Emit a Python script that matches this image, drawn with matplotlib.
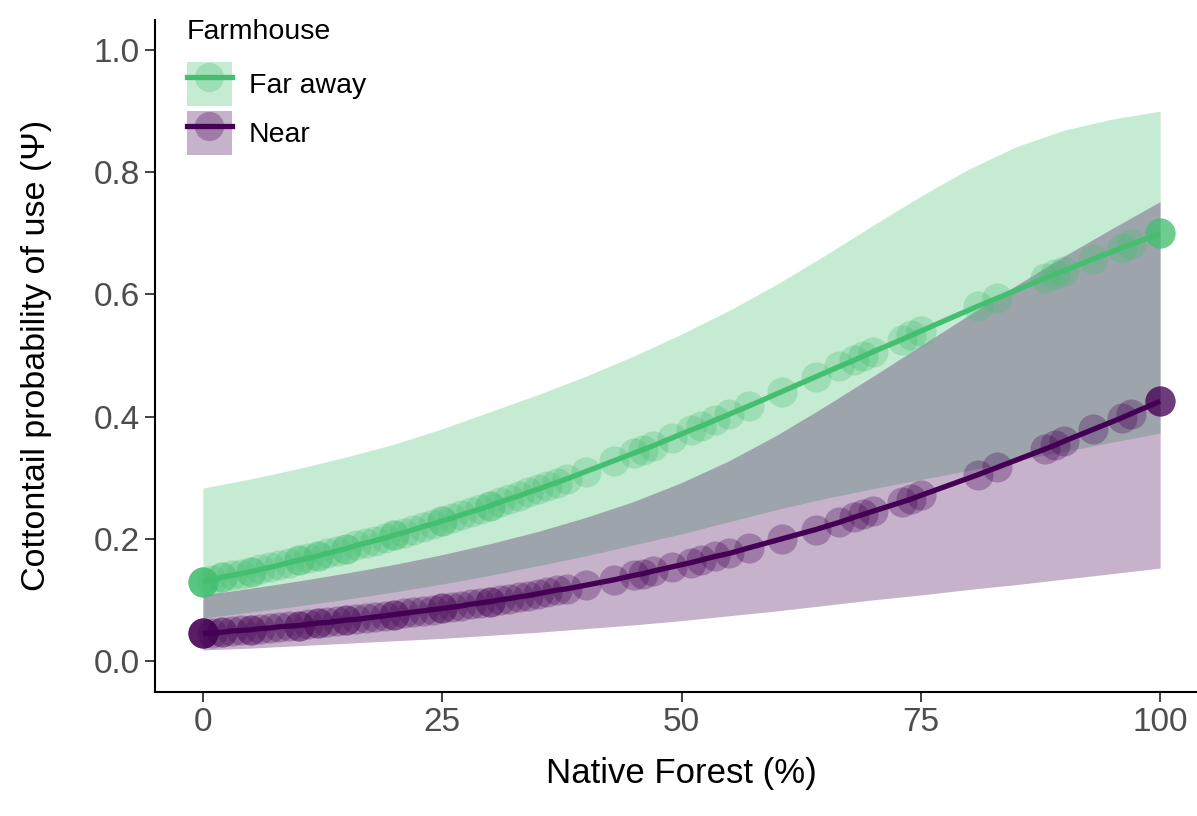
import matplotlib
matplotlib.use("Agg")
import matplotlib.pyplot as plt
import numpy as np
from matplotlib.patches import Patch
from matplotlib.lines import Line2D
from matplotlib.legend_handler import HandlerTuple

plt.rcParams['font.family'] = ['Liberation Sans', 'DejaVu Sans']

# native forest % at each site (fitted values)
site_x = [0, 0, 0, 0, 0, 0, 1, 2, 2, 3, 4, 5, 5, 6, 7, 8, 9, 10, 10, 11, 12, 12, 13, 14,
          15, 15, 16, 17, 18, 19, 20, 20, 21, 22, 23, 24, 25, 25, 26, 27, 28, 29, 30, 30,
          31, 32, 33, 34, 35, 36, 37, 38, 40, 43, 45, 46, 47, 49, 51, 52, 53.5, 55, 57,
          60.5, 64, 66.5, 68, 69, 70, 73, 74, 75, 81, 83, 88, 89, 90, 93, 96, 97,
          100, 100, 100, 100]
far_fit = [0.130, 0.130, 0.130, 0.130, 0.130, 0.130, 0.133, 0.137, 0.137, 0.140, 0.143,
           0.146, 0.146, 0.150, 0.153, 0.157, 0.161, 0.165, 0.165, 0.168, 0.172, 0.172,
           0.176, 0.180, 0.184, 0.184, 0.189, 0.193, 0.197, 0.201, 0.206, 0.206, 0.210,
           0.215, 0.220, 0.224, 0.229, 0.229, 0.234, 0.239, 0.244, 0.249, 0.254, 0.254,
           0.260, 0.265, 0.270, 0.276, 0.281, 0.287, 0.292, 0.298, 0.310, 0.328, 0.340,
           0.346, 0.352, 0.365, 0.378, 0.384, 0.394, 0.404, 0.417, 0.441, 0.465, 0.482,
           0.492, 0.499, 0.506, 0.526, 0.533, 0.540, 0.581, 0.594, 0.627, 0.633, 0.639,
           0.658, 0.676, 0.682, 0.700, 0.700, 0.700, 0.700]
near_fit = [0.045, 0.045, 0.045, 0.045, 0.045, 0.045, 0.046, 0.047, 0.047, 0.049, 0.050,
            0.051, 0.051, 0.053, 0.054, 0.056, 0.057, 0.058, 0.058, 0.060, 0.062, 0.062,
            0.063, 0.065, 0.067, 0.067, 0.068, 0.070, 0.072, 0.074, 0.076, 0.076, 0.078,
            0.080, 0.082, 0.084, 0.086, 0.086, 0.088, 0.090, 0.093, 0.095, 0.097, 0.097,
            0.100, 0.102, 0.105, 0.107, 0.110, 0.113, 0.116, 0.118, 0.124, 0.133, 0.140,
            0.143, 0.147, 0.154, 0.161, 0.165, 0.171, 0.176, 0.185, 0.200, 0.215, 0.227,
            0.235, 0.240, 0.245, 0.260, 0.265, 0.271, 0.305, 0.317, 0.347, 0.353, 0.360,
            0.379, 0.398, 0.405, 0.425, 0.425, 0.425, 0.425]

# confidence ribbons
rib_x = [0, 5, 10, 15, 20, 25, 30, 35, 40, 45, 50, 55, 60, 65, 70, 75, 80, 85, 90, 95, 100]
far_lo = [0.070, 0.080, 0.090, 0.101, 0.113, 0.126, 0.140, 0.156, 0.172, 0.190, 0.208,
          0.228, 0.248, 0.266, 0.282, 0.297, 0.312, 0.328, 0.343, 0.358, 0.373]
far_hi = [0.283, 0.298, 0.315, 0.334, 0.355, 0.380, 0.408, 0.436, 0.466, 0.499, 0.535,
          0.574, 0.617, 0.664, 0.713, 0.761, 0.805, 0.842, 0.869, 0.887, 0.900]
near_lo = [0.018, 0.021, 0.025, 0.029, 0.033, 0.037, 0.042, 0.047, 0.053, 0.059, 0.066,
           0.074, 0.082, 0.091, 0.100, 0.108, 0.117, 0.125, 0.134, 0.143, 0.152]
near_hi = [0.108, 0.119, 0.131, 0.144, 0.158, 0.174, 0.192, 0.212, 0.235, 0.261, 0.292,
           0.328, 0.370, 0.417, 0.466, 0.516, 0.566, 0.615, 0.663, 0.708, 0.752]

groups = ['Far away', 'Near']
colors = ['#44BF70', '#440154']

fig = plt.figure(figsize=(11.97, 8.16), dpi=100)
ax = fig.add_axes([155 / 1197, 1 - 691.5 / 816, 1053 / 1197, 672 / 816])

fits = [far_fit, near_fit]
lows = [far_lo, near_lo]
highs = [far_hi, near_hi]

for lo, hi, c in zip(lows, highs, colors):
    ax.fill_between(rib_x, lo, hi, color=c, alpha=0.3, linewidth=0)
for fit, c in zip(fits, colors):
    ax.scatter(site_x, fit, s=470, color=c, alpha=0.3, linewidths=0, zorder=3)
    ax.plot(site_x, fit, color=c, lw=3.8, solid_capstyle='butt', zorder=4)

ax.set_xlim(-5, 105)
ax.set_ylim(-0.05, 1.05)
ax.set_xticks([0, 25, 50, 75, 100])
ax.set_yticks([0.0, 0.2, 0.4, 0.6, 0.8, 1.0])
ax.set_yticklabels(['0.0', '0.2', '0.4', '0.6', '0.8', '1.0'])
for s in ['top', 'right']:
    ax.spines[s].set_visible(False)
for s in ['left', 'bottom']:
    ax.spines[s].set_linewidth(1.5)
    ax.spines[s].set_color('black')
ax.tick_params(axis='both', labelsize=24, labelcolor='#4D4D4D', color='#333333',
               width=1.3, length=7, pad=4)
ax.set_xlabel('Native Forest (%)', fontsize=25, labelpad=14)
ax.set_ylabel('Cottontail probability of use (Ψ)', fontsize=24.5, labelpad=30)

handles = []
for c in colors:
    handles.append((Patch(facecolor=c, alpha=0.3, linewidth=0),
                    Line2D([], [], marker='o', ls='none', markersize=21, color=c,
                           alpha=0.3, markeredgewidth=0),
                    Line2D([], [], color=c, lw=3.8)))
leg = ax.legend(handles, groups, title='Farmhouse', loc='upper left',
                bbox_to_anchor=(187 / 1197, 1 - 19 / 816), bbox_transform=fig.transFigure,
                handler_map={tuple: HandlerTuple(ndivide=1, pad=0)},
                frameon=False, fontsize=20.5, title_fontsize=20.5,
                handlelength=1.58, handleheight=2.0, handletextpad=0.6,
                labelspacing=0.18, borderpad=0, borderaxespad=0, alignment='left')
leg._legend_box.sep = 12  # gap between title and keys

fig.savefig('out.png', dpi=100)
